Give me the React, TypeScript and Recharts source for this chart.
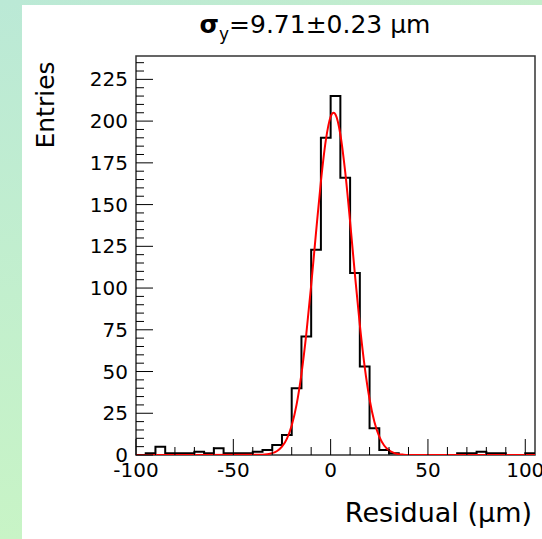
import React from "react";
import { ComposedChart, Line, XAxis, YAxis, ReferenceArea } from "recharts";

// ---- data ----
const BIN_LOW = [
  -100, -95, -90, -85, -80, -75, -70, -65, -60, -55, -50, -45, -40, -35, -30, -25, -20, -15, -10, -5,
  0, 5, 10, 15, 20, 25, 30, 35, 40, 45, 50, 55, 60, 65, 70, 75, 80, 85, 90, 95, 100,
];
const COUNTS = [
  0, 1, 5, 1, 1, 1, 2, 1, 4, 1, 1, 1, 2, 3, 6, 12, 40, 71, 123, 190,
  215, 166, 109, 53, 16, 3, 1, 0, 0, 0, 0, 0, 0, 1, 1, 2, 1, 1, 0, 0, 1,
];
const HIST_UPPER_EDGE = 105;

const FIT_X = [
  -100, -35, -32.5, -30, -27.5, -25, -22.5, -20, -17.5, -15, -12.5, -10, -7.5, -5, -2.5, 0, 1.5, 2.5,
  5, 7.5, 10, 12.5, 15, 17.5, 20, 22.5, 25, 27.5, 30, 32.5, 35, 37.5, 40, 105,
];
const FIT_Y = [
  0, 0.2, 0.45, 1.1, 2.4, 5.0, 9.7, 17.7, 30.2, 48.5, 72.5, 101.7, 133.4, 163.8, 188.3, 202.6, 205, 203.9,
  192, 169.4, 139.8, 107.9, 78, 52.8, 33.4, 19.8, 11, 5.7, 2.8, 1.3, 0.5, 0.2, 0.07, 0,
];

const X_TICKS = [-100, -90, -80, -70, -60, -50, -40, -30, -20, -10, 0, 10, 20, 30, 40, 50, 60, 70, 80, 90, 100];
const X_LABELS = [-100, -50, 0, 50, 100];
const Y_TICKS = [
  0, 5, 10, 15, 20, 25, 30, 35, 40, 45, 50, 55, 60, 65, 70, 75, 80, 85, 90, 95, 100, 105, 110, 115,
  120, 125, 130, 135, 140, 145, 150, 155, 160, 165, 170, 175, 180, 185, 190, 195, 200, 205, 210, 215,
  220, 225, 230, 235,
];
const Y_LABELS = [0, 25, 50, 75, 100, 125, 150, 175, 200, 225];

const X_DOMAIN: [number, number] = [-100, 105];
const Y_DOMAIN: [number, number] = [0, 239];

const TITLE_SIGMA = "σ";
const TITLE_SUB = "y";
const TITLE_REST = "=9.71±0.23 μm";
const Y_TITLE = "Entries";
const X_TITLE = "Residual (μm)";

// ---- build tables ----
const histData = [
  ...BIN_LOW.map((x, i) => ({ x, y: COUNTS[i] })),
  { x: HIST_UPPER_EDGE, y: COUNTS[COUNTS.length - 1] },
  { x: HIST_UPPER_EDGE, y: 0 },
];
const fitData = FIT_X.map((x, i) => ({ x, y: FIT_Y[i] }));

const FONT = "DejaVu Sans";
const PLOT_BOTTOM = 455;
const PLOT_LEFT = 136;

const renderXTick = (props: any) => {
  const { x, payload } = props;
  const v = payload.value;
  const major = X_LABELS.includes(v);
  const y = PLOT_BOTTOM;
  return (
    <g key={`xt-${v}`}>
      <line x1={x} y1={y} x2={x} y2={y - (major ? 16 : 8)} stroke="#000" strokeWidth={1} />
      {major && (
        <text x={x} y={y + 22} textAnchor="middle" fontFamily={FONT} fontSize={20} fill="#000">
          {v}
        </text>
      )}
    </g>
  );
};

const renderYTick = (props: any) => {
  const { y, payload } = props;
  const v = payload.value;
  const major = Y_LABELS.includes(v);
  const x = PLOT_LEFT;
  return (
    <g key={`yt-${v}`}>
      <line x1={x} y1={y} x2={x + (major ? 17 : 8)} y2={y} stroke="#000" strokeWidth={1} />
      {major && (
        <text x={x - 8} y={y + 7} textAnchor="end" fontFamily={FONT} fontSize={20} fill="#000">
          {v}
        </text>
      )}
    </g>
  );
};

export default function App() {
  return (
    <div style={{ position: "absolute", left: 0, top: 0, width: 542, height: 539, background: "#fff", overflow: "hidden" }}>
      <div style={{ position: "absolute", left: 0, top: 0, width: 542, height: 5, background: "linear-gradient(to right, #bbe9d6, #c4eecb)" }} />
      <div style={{ position: "absolute", left: 0, top: 0, width: 22, height: 539, background: "linear-gradient(to bottom, #bbe9d6, #c8f4c6)" }} />
      <div style={{ position: "absolute", left: 0, top: 0 }}>
        <ComposedChart width={542} height={539} margin={{ top: 56, right: 7, left: 96, bottom: 54 }}>
          <XAxis
            dataKey="x"
            type="number"
            domain={X_DOMAIN}
            allowDataOverflow
            ticks={X_TICKS}
            interval={0}
            axisLine={false}
            tickLine={false}
            height={30}
            tick={renderXTick}
          />
          <YAxis
            type="number"
            domain={Y_DOMAIN}
            allowDataOverflow
            ticks={Y_TICKS}
            interval={0}
            axisLine={false}
            tickLine={false}
            width={40}
            tick={renderYTick}
          />
          <ReferenceArea x1={X_DOMAIN[0]} x2={X_DOMAIN[1]} y1={Y_DOMAIN[0]} y2={Y_DOMAIN[1]} fill="none" fillOpacity={0} stroke="#333" strokeWidth={1.5} />
          <Line data={histData} dataKey="y" type="stepAfter" stroke="#000" strokeWidth={2} dot={false} isAnimationActive={false} />
          <Line data={fitData} dataKey="y" type="monotone" stroke="#ff0000" strokeWidth={2} dot={false} isAnimationActive={false} />
        </ComposedChart>
      </div>
      <svg width={542} height={539} style={{ position: "absolute", left: 0, top: 0, pointerEvents: "none" }}>
        <text x={315} y={33} textAnchor="middle" fontFamily={FONT} fontSize={25} fill="#000">
          <tspan fontWeight="bold">{TITLE_SIGMA}</tspan>
          <tspan fontSize={17} dy={7}>{TITLE_SUB}</tspan>
          <tspan dy={-7}>{TITLE_REST}</tspan>
        </text>
        <text transform="translate(54,105) rotate(-90)" textAnchor="middle" fontFamily={FONT} fontSize={25} fill="#000">
          {Y_TITLE}
        </text>
        <text x={532} y={522} textAnchor="end" fontFamily={FONT} fontSize={27} fill="#000">
          {X_TITLE}
        </text>
      </svg>
    </div>
  );
}
